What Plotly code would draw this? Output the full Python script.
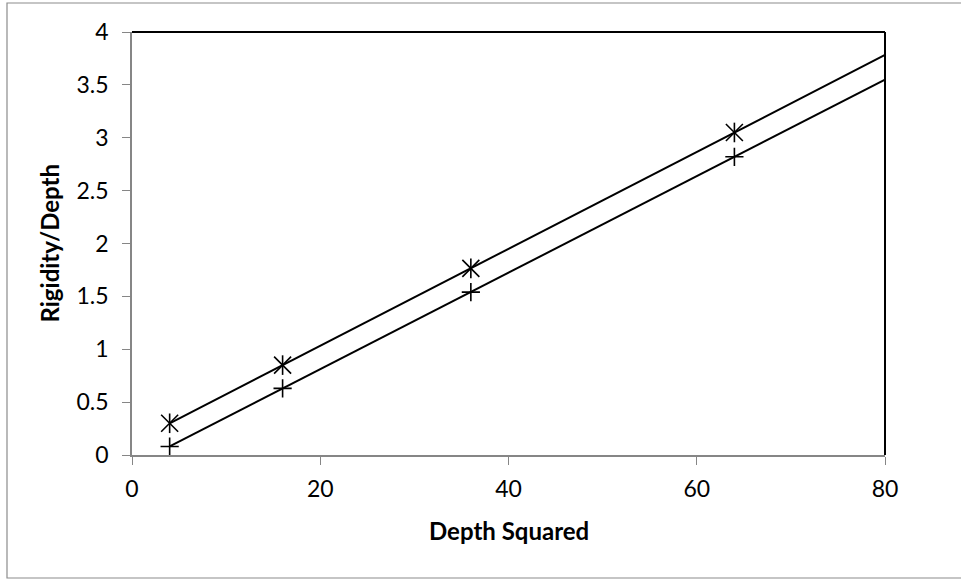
import numpy as np
import plotly.graph_objects as go

# Data
depth_squared = [4, 16, 36, 64]
series_star = [0.30, 0.85, 1.765, 3.05]
series_plus = [0.08, 0.63, 1.54, 2.82]
trend_range = [4, 80]          # trendline span (forward forecast to 80)
x_ticks = [0, 20, 40, 60, 80]
y_ticks = [0, 0.5, 1, 1.5, 2, 2.5, 3, 3.5, 4]
x_title = "Depth Squared"
y_title = "Rigidity/Depth"

FONT = "Lato"
GRAY = "#868686"

def trend(xs, ys, span):
    m, b = np.polyfit(xs, ys, 1)
    tx = np.array(span, dtype=float)
    return tx, m * tx + b

fig = go.Figure()

for ys in (series_star, series_plus):
    tx, ty = trend(depth_squared, ys, trend_range)
    fig.add_trace(go.Scatter(x=tx, y=ty, mode="lines",
                             line=dict(color="black", width=2),
                             showlegend=False, hoverinfo="skip"))

# star marker: X plus vertical stroke (Excel-style)
fig.add_trace(go.Scatter(x=depth_squared, y=series_star, mode="markers",
                         marker=dict(symbol="x-thin-open", size=17, color="black",
                                     line=dict(color="black", width=1.6)),
                         showlegend=False))
fig.add_trace(go.Scatter(x=depth_squared, y=series_star, mode="markers",
                         marker=dict(symbol="line-ns-open", size=14, color="black",
                                     line=dict(color="black", width=1.6)),
                         showlegend=False, hoverinfo="skip"))
fig.add_trace(go.Scatter(x=depth_squared, y=series_plus, mode="markers",
                         marker=dict(symbol="cross-thin-open", size=13, color="black",
                                     line=dict(color="black", width=1.6)),
                         showlegend=False))

axis_common = dict(showgrid=False, zeroline=False, showline=True,
                   linecolor=GRAY, linewidth=1.5, ticks="outside",
                   ticklen=8, tickwidth=1.2, tickcolor=GRAY,
                   tickfont=dict(family=FONT, size=23, color="black"))

fig.update_xaxes(range=[0, 80], tickvals=x_ticks, ticklabelstandoff=5,
                 **axis_common)
fig.update_yaxes(range=[0, 4], tickvals=y_ticks, ticklabelstandoff=9,
                 **axis_common)

fig.update_layout(
    width=961, height=580,
    margin=dict(l=132, r=76, t=32, b=125),
    paper_bgcolor="white", plot_bgcolor="white",
    font=dict(family=FONT, color="black"),
    shapes=[
        dict(type="line", xref="paper", yref="paper", x0=0, x1=1, y0=1, y1=1,
             line=dict(color="black", width=2)),
        dict(type="line", xref="paper", yref="paper", x0=1, x1=1, y0=0, y1=1,
             line=dict(color="black", width=2)),
        dict(type="rect", xref="paper", yref="paper",
             x0=(7 - 132) / 753, x1=1.3,
             y0=(455 - 578) / 423, y1=(455 - 3) / 423,
             line=dict(color="#8c8c8c", width=1.2), layer="below"),
    ],
    annotations=[
        dict(text=f"<b>{x_title}</b>", xref="paper", yref="paper",
             x=0.5, y=0, xanchor="center", yanchor="middle", yshift=-75,
             showarrow=False, font=dict(family=FONT, size=24, color="black")),
        dict(text=f"<b>{y_title}</b>", xref="paper", yref="paper",
             x=0, y=0.5, xanchor="center", yanchor="middle", xshift=-83,
             textangle=-90, showarrow=False,
             font=dict(family=FONT, size=24, color="black")),
    ],
)

fig.write_html("out.html", config={"displayModeBar": False},
               post_script="document.body.style.margin='0';"
                           "document.body.style.overflow='hidden';")
